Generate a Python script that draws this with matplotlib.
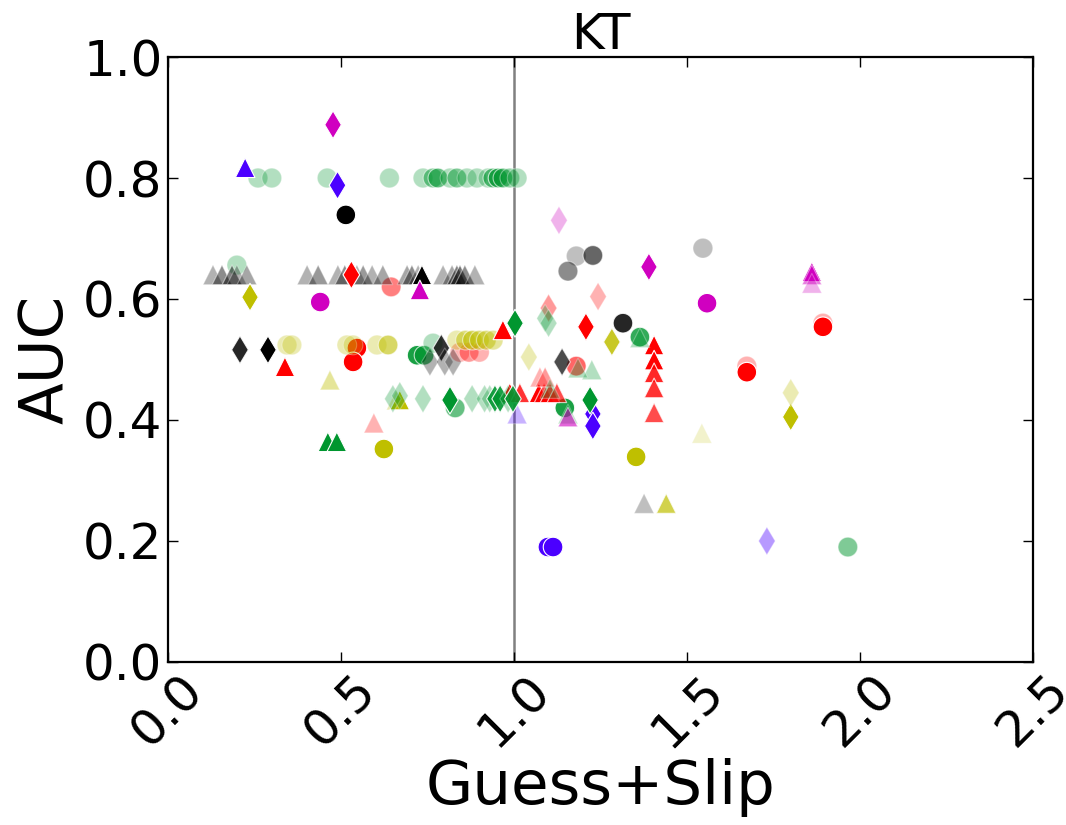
import matplotlib
matplotlib.use("Agg")
import matplotlib.pyplot as plt
from matplotlib.colors import to_rgba

# Base colours keyed by a one-letter code
palette = {
    "B": "#4B00FF",
    "G": "#00962F",
    "R": "#FF0000",
    "M": "#D000C0",
    "Y": "#BFBF00",
    "K": "#000000",
}

# ---- circles ----
circle_x = [0.26, 0.30, 0.46, 0.64, 0.737, 0.766, 0.780, 0.815, 0.835, 0.864, 0.893,
            0.925, 0.939, 0.954, 0.968, 0.988, 1.009,
            0.199, 0.514, 1.180, 1.156, 1.228, 1.546, 1.558, 0.440,
            1.893, 1.893, 1.673, 1.673, 0.546, 0.535, 0.645, 1.315, 1.364, 1.180,
            1.353, 0.624, 1.098, 1.113, 1.965,
            0.344, 0.358, 0.517, 0.535, 0.604, 0.636,
            0.720, 0.740, 0.766,
            0.844, 0.870, 0.900,
            0.835, 0.860, 0.880, 0.900, 0.920, 0.940,
            0.830, 1.147]
circle_y = [0.80, 0.80, 0.80, 0.80, 0.80, 0.80, 0.80, 0.80, 0.80, 0.80, 0.80,
            0.80, 0.80, 0.80, 0.80, 0.80, 0.80,
            0.656, 0.739, 0.671, 0.646, 0.672, 0.684, 0.593, 0.595,
            0.560, 0.554, 0.489, 0.479, 0.519, 0.496, 0.620, 0.560, 0.537, 0.489,
            0.339, 0.352, 0.190, 0.190, 0.190,
            0.524, 0.524, 0.524, 0.524, 0.524, 0.524,
            0.507, 0.507, 0.527,
            0.512, 0.512, 0.512,
            0.532, 0.532, 0.532, 0.532, 0.532, 0.532,
            0.420, 0.420]
circle_c = ["G"] * 17 + [
    "G", "K", "K", "K", "K", "K", "M", "M",
    "R", "R", "R", "R", "R", "R", "R", "K", "G", "R",
    "Y", "Y", "B", "B", "G",
    "Y", "Y", "Y", "Y", "Y", "Y",
    "G", "G", "G",
    "R", "R", "R",
    "Y", "Y", "Y", "Y", "Y", "Y",
    "G", "G"]
circle_a = [0.3, 0.3, 0.3, 0.3, 0.3, 0.5, 0.6, 0.3, 0.5, 0.3, 0.3,
            0.3, 0.6, 0.7, 0.6, 0.4, 0.3,
            0.3, 1.0, 0.25, 0.45, 0.6, 0.25, 1.0, 1.0,
            0.3, 1.0, 0.3, 1.0, 1.0, 1.0, 0.5, 0.85, 0.8, 0.6,
            1.0, 1.0, 1.0, 1.0, 0.5,
            0.3, 0.3, 0.3, 0.3, 0.3, 0.6,
            0.9, 0.7, 0.3,
            0.3, 0.4, 0.3,
            0.3, 0.5, 0.6, 0.5, 0.5, 0.4,
            0.6, 0.9]

# ---- triangles ----
tri_x = [0.223,
         0.13, 0.156, 0.185, 0.199, 0.228, 0.402, 0.434, 0.491, 0.511, 0.546,
         0.564, 0.590, 0.621, 0.691, 0.705, 0.723, 0.795, 0.821, 0.835, 0.844,
         0.858, 0.887,
         0.734,
         0.338, 1.405, 1.405, 1.405, 1.405, 1.405,
         0.728, 1.861, 1.861, 1.861,
         0.468, 1.543, 1.440, 1.376,
         0.660, 0.670, 0.595, 0.462, 0.488,
         0.968, 0.988, 1.017, 1.072, 1.087, 1.104, 1.124, 1.075, 1.090,
         1.225, 1.185, 1.156, 1.364, 1.104,
         1.156, 1.009]
tri_y = [0.817,
         0.64, 0.64, 0.64, 0.64, 0.64, 0.64, 0.64, 0.64, 0.64, 0.64,
         0.64, 0.64, 0.64, 0.64, 0.64, 0.64, 0.64, 0.64, 0.64, 0.64,
         0.64, 0.64,
         0.64,
         0.488, 0.524, 0.499, 0.478, 0.453, 0.412,
         0.615, 0.645, 0.640, 0.626,
         0.466, 0.378, 0.262, 0.262,
         0.433, 0.433, 0.395, 0.364, 0.364,
         0.549, 0.445, 0.445, 0.445, 0.445, 0.445, 0.445, 0.471, 0.471,
         0.483, 0.486, 0.410, 0.536, 0.452,
         0.405, 0.410]
tri_c = ["B"] + ["K"] * 22 + ["K"] + ["R"] * 6 + ["M"] * 4 + [
    "Y", "Y", "Y", "K",
    "Y", "Y", "R", "G", "G",
    "R", "R", "R", "R", "R", "R", "R", "R", "R",
    "G", "G", "G", "G", "G",
    "M", "B"]
tri_a = [1.0,
         0.3, 0.45, 0.5, 0.3, 0.35, 0.3, 0.4, 0.3, 0.45, 0.3,
         0.4, 0.3, 0.35, 0.35, 0.45, 0.3, 0.3, 0.35, 0.5, 0.55,
         0.45, 0.3,
         1.0,
         1.0, 1.0, 1.0, 0.85, 0.8, 0.7,
         1.0, 1.0, 0.5, 0.3,
         0.4, 0.2, 0.7, 0.25,
         0.3, 1.0, 0.3, 1.0, 1.0,
         1.0, 1.0, 0.8, 1.0, 0.7, 0.8, 0.7, 0.3, 0.4,
         0.3, 0.3, 0.3, 0.3, 0.3,
         0.6, 0.3]

# ---- thin diamonds ----
dia_x = [0.477, 1.390, 0.490, 1.228, 1.228, 1.130, 0.530, 1.208,
         0.237, 1.283, 1.800, 1.800, 1.043, 1.243, 1.100, 1.090, 1.100,
         1.139, 0.208, 0.289, 0.790, 0.757, 0.800, 0.824, 1.003, 1.220,
         0.650, 0.670, 0.737, 0.815, 0.879, 0.915, 0.930, 0.945, 0.960,
         0.983, 0.997, 1.731]
dia_y = [0.888, 0.653, 0.788, 0.410, 0.390, 0.730, 0.640, 0.554,
         0.603, 0.529, 0.405, 0.445, 0.504, 0.604, 0.585, 0.568, 0.560,
         0.496, 0.516, 0.516, 0.519, 0.496, 0.496, 0.496, 0.560, 0.433,
         0.435, 0.440, 0.435, 0.433, 0.435, 0.435, 0.435, 0.435, 0.435,
         0.435, 0.435, 0.200]
dia_c = ["M", "M", "B", "B", "B", "M", "R", "R",
         "Y", "Y", "Y", "Y", "Y", "R", "R", "G", "G",
         "K", "K", "K", "K", "K", "K", "K", "G", "G",
         "G", "G", "G", "G", "G", "G", "G", "G", "G",
         "G", "G", "B"]
dia_a = [1.0, 1.0, 1.0, 1.0, 1.0, 0.3, 1.0, 1.0,
         1.0, 0.85, 1.0, 0.3, 0.3, 0.3, 0.4, 0.3, 0.3,
         0.7, 0.85, 1.0, 0.8, 0.3, 0.3, 0.3, 1.0, 1.0,
         0.3, 0.3, 0.3, 1.0, 0.3, 0.3, 0.3, 0.9, 0.9,
         0.3, 0.9, 0.4]

# Reference line at Guess+Slip = 1
ref_x = 1.0

fig = plt.figure(figsize=(10.66, 8.25), dpi=100)
ax = fig.add_axes([0.1576, 0.1976, 0.8114, 0.7333])

ax.axvline(ref_x, color="#808080", lw=1.8, zorder=1)


def draw(xs, ys, codes, alphas, marker):
    faces = [to_rgba(palette[c], a) for c, a in zip(codes, alphas)]
    edges = [(1, 1, 1, a) for a in alphas]
    ax.scatter(xs, ys, s=200, marker=marker, c=faces, edgecolors=edges,
               linewidths=0.8, zorder=2)


draw(circle_x, circle_y, circle_c, circle_a, "o")
draw(tri_x, tri_y, tri_c, tri_a, "^")
draw(dia_x, dia_y, dia_c, dia_a, "d")

ax.set_xlim(0.0, 2.5)
ax.set_ylim(0.0, 1.0)
ax.set_xticks([0.0, 0.5, 1.0, 1.5, 2.0, 2.5])
ax.set_yticks([0.0, 0.2, 0.4, 0.6, 0.8, 1.0])
ax.set_xticklabels(["0.0", "0.5", "1.0", "1.5", "2.0", "2.5"], rotation=45)

ax.tick_params(axis="both", direction="in", length=7, width=1.0,
               top=True, right=True, labelsize=36)
ax.tick_params(axis="y", pad=4)
ax.tick_params(axis="x", pad=3)
for sp in ax.spines.values():
    sp.set_linewidth(1.6)

ax.set_title("KT", fontsize=36, pad=6)
ax.set_xlabel("Guess+Slip", fontsize=44, labelpad=1)
ax.set_ylabel("AUC", fontsize=44, labelpad=5)

fig.savefig("out.png", dpi=100, facecolor="white")
